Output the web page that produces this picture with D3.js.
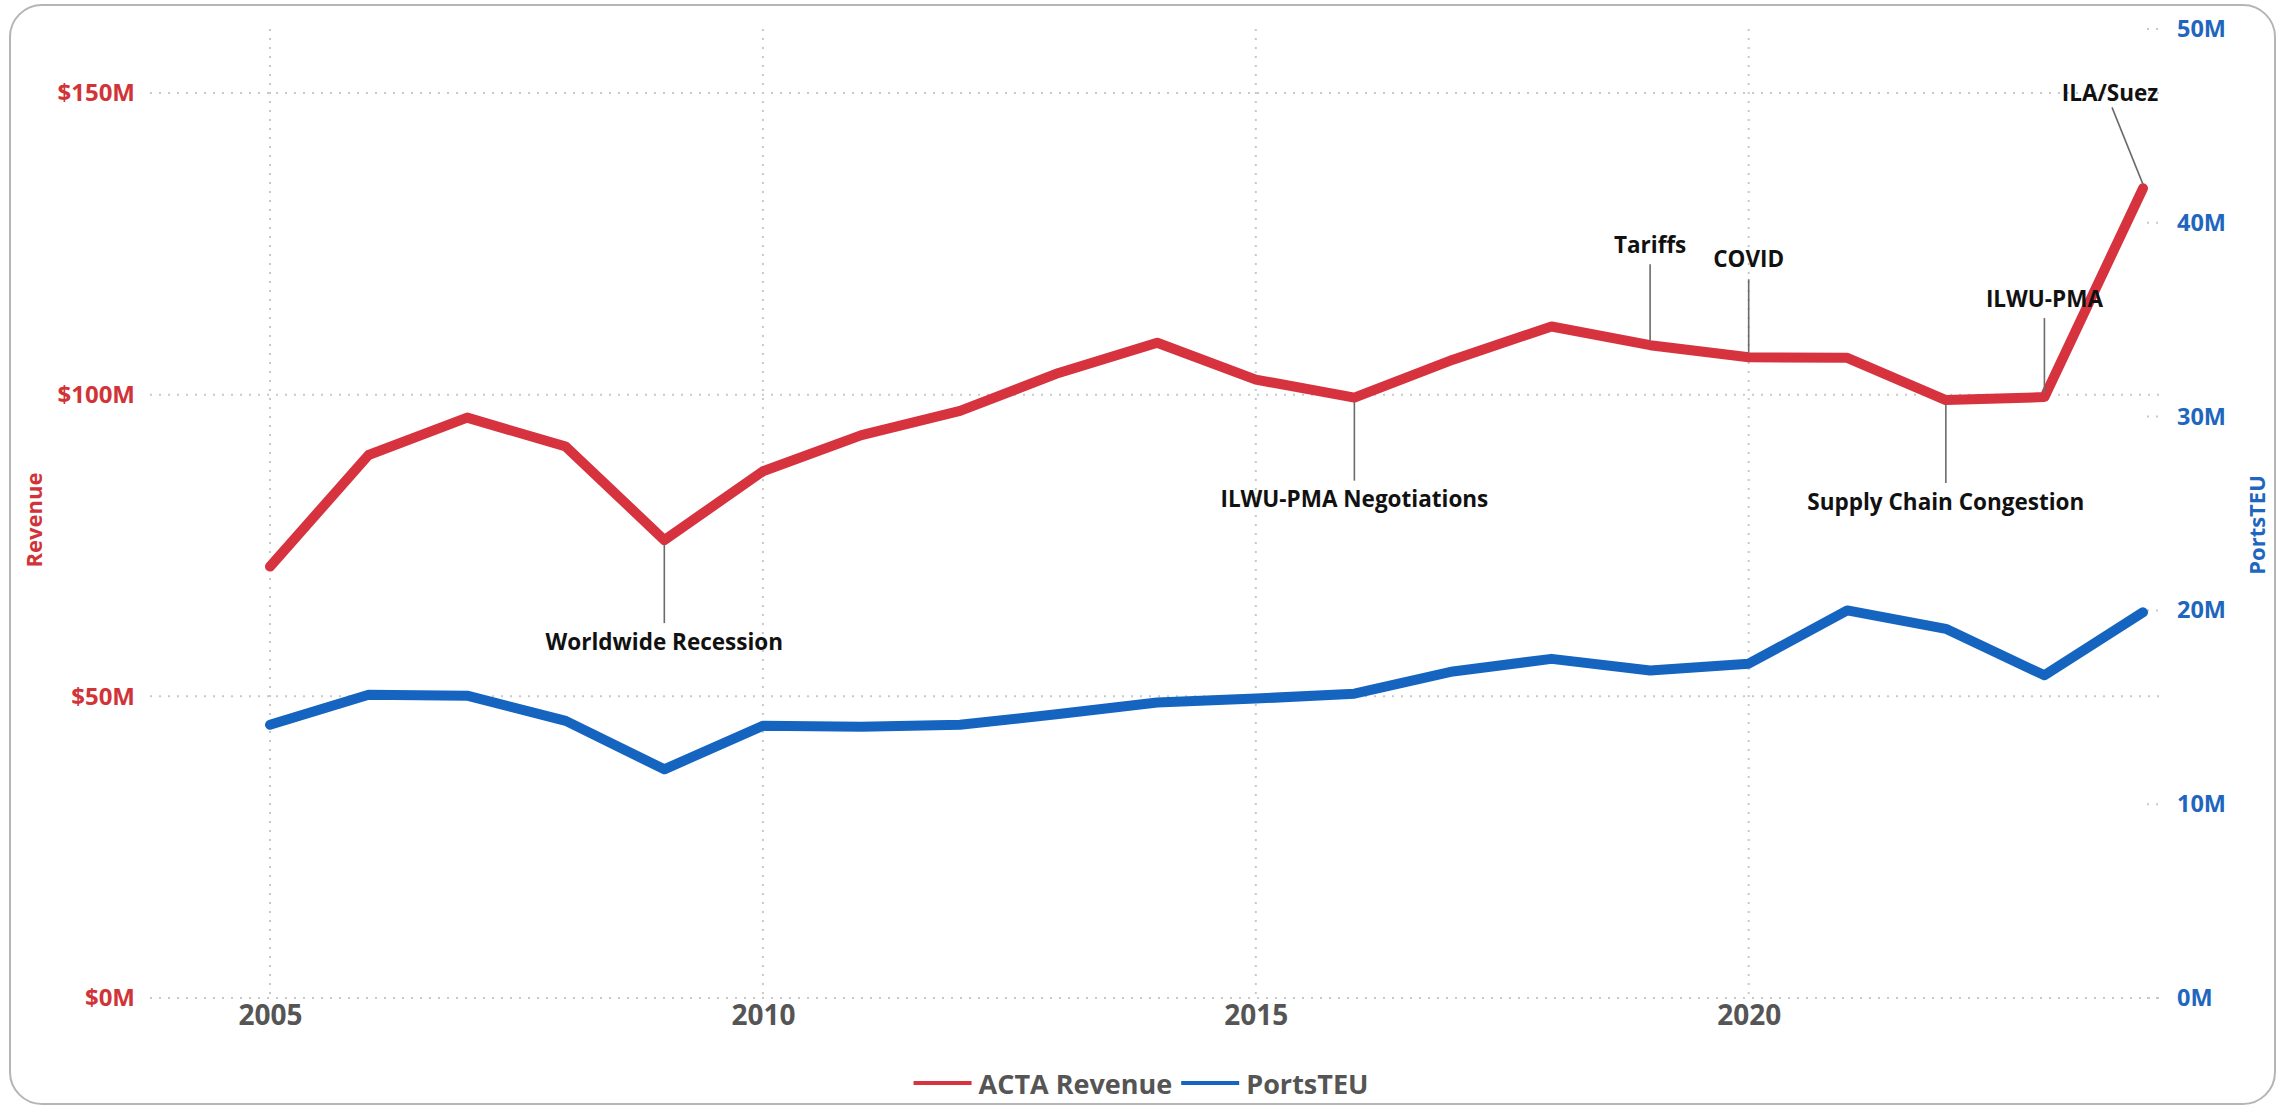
<!DOCTYPE html>
<html>
<head>
<meta charset="utf-8">
<script src="https://cdn.jsdelivr.net/npm/d3@7"></script>
<style>
  html, body { margin: 0; padding: 0; background: #ffffff; }
  svg { display: block; font-family: 'Segoe UI', 'Open Sans', sans-serif; }
</style>
</head>
<body>
<div id="chart"></div>
<script>
const years = [2005, 2006, 2007, 2008, 2009, 2010, 2011, 2012, 2013, 2014,
  2015, 2016, 2017, 2018, 2019, 2020, 2021, 2022, 2023, 2024];
// ACTA revenue, $M
const revenue = [71.5, 90.0, 96.2, 91.4, 75.9, 87.3, 93.3, 97.3, 103.6, 108.6,
  102.5, 99.5, 105.8, 111.3, 108.2, 106.2, 106.1, 99.1, 99.6, 134.2];
// port TEU, millions
const portsTeu = [14.1, 15.65, 15.6, 14.3, 11.8, 14.05, 14.0, 14.1, 14.65, 15.25,
  15.45, 15.7, 16.85, 17.5, 16.9, 17.25, 20.0, 19.05, 16.65, 19.9];

const xTicks = [2005, 2010, 2015, 2020];
const revenueTicks = [0, 50, 100, 150];
const teuTicks = [0, 10, 20, 30, 40, 50];

const eventYears = [2009, 2016, 2019, 2020, 2022, 2023, 2024];
const eventLabels = ['Worldwide Recession', 'ILWU-PMA Negotiations', 'Tariffs', 'COVID',
  'Supply Chain Congestion', 'ILWU-PMA', 'ILA/Suez'];

const seriesNames = ['ACTA Revenue', 'PortsTEU'];

// layout
const W = 2285;
const H = 1109;
const red = '#D6333F';
const blue = '#1565C0';
const redText = '#D13438';
const blueText = '#1F66BE';
const greyText = '#555555';
const gridColor = '#c9c9c9';
const font = "'Segoe UI', 'Open Sans', sans-serif";

// where each event label sits relative to its point: [dx, textDy, lineDx, lineDy]
const eventPlacement = [
  [0, 101, 0, 83],
  [0, 101, 0, 83],
  [0, -101, 0, -81],
  [0, -99, 0, -78],
  [0, 101, 0, 83],
  [0, -99, 0, -79],
  [-33, -96, -31, -81],
];

const svg = d3.select('#chart').append('svg')
  .attr('width', W)
  .attr('height', H);

// card border
svg.append('rect')
  .attr('x', 10).attr('y', 5)
  .attr('width', W - 20).attr('height', H - 10)
  .attr('rx', 32).attr('ry', 32)
  .attr('fill', '#ffffff')
  .attr('stroke', '#b5b5b5')
  .attr('stroke-width', 2);

const plot = { left: 150, right: 2160, top: 29, bottom: 998 };

const x = d3.scaleLinear().domain([2005, 2024]).range([270, 2143]);
const yLeft = d3.scaleLinear().domain([0, 150]).range([plot.bottom, 93]);
const yRight = d3.scaleLinear().domain([0, 50]).range([plot.bottom, plot.top]);

// gridlines
const grid = svg.append('g')
  .attr('stroke', gridColor)
  .attr('stroke-width', 2)
  .attr('stroke-dasharray', '2,7');

grid.selectAll('.hgrid')
  .data(revenueTicks)
  .enter()
  .append('line')
  .attr('x1', plot.left).attr('x2', plot.right)
  .attr('y1', d => yLeft(d)).attr('y2', d => yLeft(d));

grid.selectAll('.vgrid')
  .data(xTicks)
  .enter()
  .append('line')
  .attr('x1', d => x(d)).attr('x2', d => x(d))
  .attr('y1', plot.top).attr('y2', plot.bottom);

grid.selectAll('.rstub')
  .data(teuTicks)
  .enter()
  .append('line')
  .attr('x1', plot.right - 13).attr('x2', plot.right)
  .attr('y1', d => yRight(d)).attr('y2', d => yRight(d));

// axes
const leftAxis = svg.append('g')
  .attr('transform', 'translate(135, 0)')
  .call(d3.axisLeft(yLeft).tickValues(revenueTicks).tickSize(0).tickPadding(0)
    .tickFormat(d => `$${d}M`));
leftAxis.select('.domain').remove();
leftAxis.selectAll('text')
  .attr('fill', redText)
  .style('font-size', '24px')
  .style('font-weight', 700)
  .style('font-family', font);

const rightAxis = svg.append('g')
  .attr('transform', 'translate(2177, 0)')
  .call(d3.axisRight(yRight).tickValues(teuTicks).tickSize(0).tickPadding(0)
    .tickFormat(d => `${d}M`));
rightAxis.select('.domain').remove();
rightAxis.selectAll('text')
  .attr('fill', blueText)
  .style('font-size', '23.5px')
  .style('font-weight', 700)
  .style('font-family', font);

const bottomAxis = svg.append('g')
  .attr('transform', `translate(0, ${plot.bottom + 7})`)
  .call(d3.axisBottom(x).tickValues(xTicks).tickSize(0).tickPadding(0)
    .tickFormat(d3.format('d')));
bottomAxis.select('.domain').remove();
bottomAxis.selectAll('text')
  .attr('fill', greyText)
  .attr('dy', '0.71em')
  .style('font-size', '28px')
  .style('font-weight', 700)
  .style('font-family', font);

// axis titles
svg.append('text')
  .attr('transform', 'translate(33, 520) rotate(-90)')
  .attr('text-anchor', 'middle')
  .attr('dominant-baseline', 'central')
  .attr('fill', redText)
  .style('font-size', '22px')
  .style('font-weight', 700)
  .text('Revenue');

svg.append('text')
  .attr('transform', 'translate(2256, 525) rotate(-90)')
  .attr('text-anchor', 'middle')
  .attr('dominant-baseline', 'central')
  .attr('fill', blueText)
  .style('font-size', '22px')
  .style('font-weight', 700)
  .text('PortsTEU');

// lines
const revenueLine = d3.line()
  .x((d, i) => x(years[i]))
  .y(d => yLeft(d));

const teuLine = d3.line()
  .x((d, i) => x(years[i]))
  .y(d => yRight(d));

svg.append('path')
  .datum(portsTeu)
  .attr('fill', 'none')
  .attr('stroke', blue)
  .attr('stroke-width', 10)
  .attr('stroke-linejoin', 'round')
  .attr('stroke-linecap', 'round')
  .attr('d', teuLine);

svg.append('path')
  .datum(revenue)
  .attr('fill', 'none')
  .attr('stroke', red)
  .attr('stroke-width', 10)
  .attr('stroke-linejoin', 'round')
  .attr('stroke-linecap', 'round')
  .attr('d', revenueLine);

// event annotations
const events = eventYears.map((yr, i) => ({
  x: x(yr),
  y: yLeft(revenue[years.indexOf(yr)]),
  label: eventLabels[i],
  place: eventPlacement[i],
}));

const ev = svg.append('g')
  .selectAll('g')
  .data(events)
  .enter()
  .append('g');

ev.append('line')
  .attr('x1', d => d.x)
  .attr('y1', d => d.y + (d.place[3] > 0 ? 4 : -4))
  .attr('x2', d => d.x + d.place[2])
  .attr('y2', d => d.y + d.place[3])
  .attr('stroke', '#6b6b6b')
  .attr('stroke-width', 1.6);

ev.append('text')
  .attr('x', d => d.x + d.place[0])
  .attr('y', d => d.y + d.place[1])
  .attr('text-anchor', 'middle')
  .attr('dominant-baseline', 'central')
  .attr('fill', '#111111')
  .style('font-size', '22.5px')
  .style('font-weight', 700)
  .text(d => d.label);

// legend, centred under the plot
const legend = svg.append('g');
const legendColors = [red, blue];
let lx = 0;
seriesNames.forEach((name, i) => {
  const item = legend.append('g').attr('transform', `translate(${lx}, 0)`);
  item.append('line')
    .attr('x1', 0).attr('x2', 58)
    .attr('y1', 0).attr('y2', 0)
    .attr('stroke', legendColors[i])
    .attr('stroke-width', 4);
  const t = item.append('text')
    .attr('x', 65)
    .attr('y', 0)
    .attr('dominant-baseline', 'central')
    .attr('fill', greyText)
    .style('font-size', '27px')
    .style('font-weight', 700)
    .text(name);
  lx += 65 + t.node().getComputedTextLength() + 9;
});
legend.attr('transform', `translate(${1141 - (lx - 9) / 2}, 1083)`);
</script>
</body>
</html>
